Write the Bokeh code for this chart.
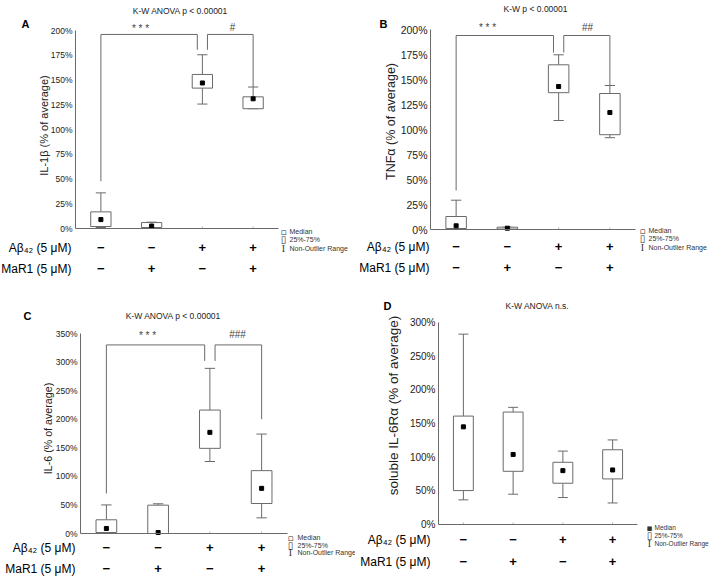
import math
from bokeh.plotting import figure
from bokeh.models import Range1d, FixedTicker, Label
from bokeh.layouts import row, column
from bokeh.embed import file_html
from bokeh.resources import INLINE

# ---------------- data ----------------
categories = [1, 2, 3, 4]
abeta_signs = ["\u2212", "\u2212", "+", "+"]
mar1_signs = ["\u2212", "+", "\u2212", "+"]

# A: IL-1beta (% of average)
il1b_low = [1, 1, 125.7, 121]
il1b_q1 = [2, 1, 141.8, 121]
il1b_med = [9, 2.5, 147, 131]
il1b_q3 = [16.8, 6, 155.6, 133]
il1b_high = [36, 6.4, 175.5, 142.9]
il1b_bracket = [47.7, 196, 180.5, 143]

# B: TNF-alpha
tnf_low = [0.3, 0.3, 109, 91.8]
tnf_q1 = [1, 0.5, 136.8, 94.8]
tnf_med = [3.7, 1.3, 143, 117]
tnf_q3 = [13, 2.3, 164.7, 136]
tnf_high = [29.3, 2.3, 174.7, 144]
tnf_bracket = [39, 194, 177, 144]

# C: IL-6
il6_low = [0, 0, 126, 27.4]
il6_q1 = [1.7, 0, 149, 52.5]
il6_med = [8.8, 1.7, 177, 79]
il6_q3 = [24, 49.6, 216, 110]
il6_high = [50, 52, 289, 174]
il6_bracket = [70, 330, 302, 200]

# D: soluble IL-6R alpha
sil6r_low = [36.6, 45, 40, 32]
sil6r_q1 = [50.4, 79, 61.3, 67.7]
sil6r_med = [145, 104, 80, 81]
sil6r_q3 = [161, 167, 92.4, 111]
sil6r_high = [282.7, 174, 109, 125.6]

FONT = "Liberation Sans"
GRAY = "#6a6a6a"
TXT = "#222222"


def make_panel(s):
    ox, oy, W, H = s["fig"]
    fl, ft, fr, fb = s["frame"]
    ymax = s["ymax"]

    def X(ax):
        return 0.5 + (ax - fl) / (fr - fl) * 4.0

    def Y(ay):
        return (fb - ay) / (fb - ft) * ymax

    p = figure(
        frame_width=W, frame_height=H, min_border=0,
        x_range=Range1d(X(ox), X(ox + W)), y_range=Range1d(Y(oy + H), Y(oy)),
        output_backend="svg", toolbar_location=None,
        background_fill_color="white", border_fill_color="white",
    )
    p.outline_line_color = None
    p.xgrid.grid_line_color = None
    p.ygrid.grid_line_color = None

    # axes, pinned at the data origin
    p.xaxis.fixed_location = 0
    p.xaxis.bounds = (0.5, 4.5)
    p.xaxis.ticker = FixedTicker(ticks=[])
    p.xaxis.minor_tick_line_color = None
    p.xaxis.axis_line_color = GRAY

    ticks = list(range(0, ymax + 1, s["step"]))
    p.yaxis.fixed_location = 0.5
    p.yaxis.bounds = (0, ymax)
    p.yaxis.ticker = FixedTicker(ticks=ticks)
    p.yaxis.major_label_overrides = {t: f"{t}%" for t in ticks}
    p.yaxis.major_label_text_font = FONT
    p.yaxis.major_label_text_font_size = s["tickfs"]
    p.yaxis.major_label_text_color = TXT
    p.yaxis.major_tick_out = 0
    p.yaxis.major_tick_in = 0
    p.yaxis.minor_tick_line_color = None
    p.yaxis.major_label_standoff = 3
    p.yaxis.axis_line_color = GRAY

    # small category ticks on the x axis
    p.segment(x0=categories, y0=[0] * 4, x1=categories, y1=[Y(fb - 2)] * 4,
              line_color="#b0b0b0", line_width=1)

    low, q1, med, q3, high = s["data"]
    # whiskers
    p.segment(x0=categories, y0=q3, x1=categories, y1=high, line_color=GRAY, line_width=1)
    p.segment(x0=categories, y0=low, x1=categories, y1=q1, line_color=GRAY, line_width=1)
    cx0 = [c - 0.1 for c in categories]
    cx1 = [c + 0.1 for c in categories]
    p.segment(x0=cx0, y0=high, x1=cx1, y1=high, line_color=GRAY, line_width=1)
    p.segment(x0=cx0, y0=low, x1=cx1, y1=low, line_color=GRAY, line_width=1)
    # boxes
    p.vbar(x=categories, width=0.4, top=q3, bottom=q1, fill_color="white",
           line_color=GRAY, line_width=1)
    # medians
    p.scatter(x=categories, y=med, marker="square", size=4,
              fill_color="black", line_color="black")

    # brackets
    if s.get("bracket"):
        b0, btop, bmid, bend = s["bracket"]
        d = 0.1
        p.line(x=[1, 1, 3 - d, 3 - d], y=[b0, btop, btop, bmid], line_color=GRAY, line_width=1)
        p.line(x=[3 + d, 3 + d, 4, 4], y=[bmid, btop, btop, bend], line_color=GRAY, line_width=1)
        for txt, ax, ay in s["stars"]:
            p.add_layout(Label(x=X(ax), y=Y(ay), text=txt, text_font=FONT,
                               text_font_size="10px", text_color="#444444",
                               text_align="center", text_baseline="middle"))

    def lab(txt, ax, ay, size, align="left", style="normal", font=FONT, color=TXT, angle=0.0):
        p.add_layout(Label(x=X(ax), y=Y(ay), text=txt, text_font=font,
                           text_font_size=size, text_font_style=style, angle=angle,
                           text_color=color, text_align=align, text_baseline="middle"))

    # y axis title
    yx, yy = s["ylabel_pos"]
    lab(s["ylabel"], yx, yy, s["ylabelfs"], align="center", angle=math.pi / 2)

    # title and panel letter
    tx, ty = s["title_pos"]
    lab(s["title"], tx, ty, "8.5px", align="center")
    lx, ly = s["letter_pos"]
    lab(s["letter"], lx, ly, "11px", align="center", style="bold", color="black")

    # treatment rows
    r1, r2 = s["rows_y"]
    rx = s["rows_x"]
    lab("A\u03b2\u2084\u2082 (5 \u03bcM)", rx, r1, "12px", align="right", color="black")
    lab("MaR1 (5 \u03bcM)", rx, r2, "12px", align="right", color="black")
    for c, a, m in zip(categories, abeta_signs, mar1_signs):
        p.add_layout(Label(x=c, y=Y(r1), text=a, text_font=FONT, text_font_size="13px",
                           text_font_style="bold", text_color="black",
                           text_align="center", text_baseline="middle"))
        p.add_layout(Label(x=c, y=Y(r2), text=m, text_font=FONT, text_font_size="13px",
                           text_font_style="bold", text_color="black",
                           text_align="center", text_baseline="middle"))

    # legend
    sx, tx2 = s["leg_x"]
    y1, y2, y3 = s["leg_y"]
    lfs = s["legfs"]
    med_sym = "\u25aa" if s["filled"] else "\u25ab"
    lab(med_sym, sx, y1, "9px", align="center", font="DejaVu Sans", color="#333333")
    lab("\u25af", sx, y2, "10px", align="center", font="DejaVu Sans", color="#333333")
    lab("I", sx, y3, "10px", align="center", font="Liberation Serif", color="#333333")
    lab("Median", tx2, y1, lfs, color="#333333")
    lab("25%-75%", tx2, y2, lfs, color="#333333")
    lab("Non-Outlier Range", tx2, y3, lfs, color="#333333")
    return p


specA = dict(fig=(0, 0, 355, 290), frame=(75, 30, 278, 228), ymax=200, step=25,
             tickfs="8.5px", ylabel="IL-1\u03b2 (% of average)", ylabelfs="11px",
             ylabel_pos=(43, 125),
             data=(il1b_low, il1b_q1, il1b_med, il1b_q3, il1b_high), bracket=il1b_bracket,
             stars=[("* * *", 140, 28), ("#", 232, 27)],
             title="K-W ANOVA p < 0.00001", title_pos=(180, 10), letter="A", letter_pos=(25, 23),
             rows_y=(247, 268), rows_x=71, leg_x=(283, 289), leg_y=(231, 239, 248),
             legfs="7px", filled=False)
specB = dict(fig=(355, 0, 354, 290), frame=(430, 29, 635, 229), ymax=200, step=25,
             tickfs="10.5px", ylabel="TNF\u03b1 (% of average)", ylabelfs="12.5px",
             ylabel_pos=(390, 121),
             data=(tnf_low, tnf_q1, tnf_med, tnf_q3, tnf_high), bracket=tnf_bracket,
             stars=[("* * *", 487, 27), ("##", 587, 27)],
             title="K-W p < 0.00001", title_pos=(535, 8), letter="B", letter_pos=(383, 23),
             rows_y=(246, 267), rows_x=429, leg_x=(642, 648), leg_y=(230, 238, 247),
             legfs="7px", filled=False)
specC = dict(fig=(0, 290, 355, 286), frame=(80, 333, 287, 533), ymax=350, step=50,
             tickfs="8.5px", ylabel="IL-6 (% of average)", ylabelfs="10.7px",
             ylabel_pos=(47, 428),
             data=(il6_low, il6_q1, il6_med, il6_q3, il6_high), bracket=il6_bracket,
             stars=[("* * *", 147, 335), ("###", 237, 334)],
             title="K-W ANOVA p < 0.00001", title_pos=(173, 315), letter="C", letter_pos=(27, 315),
             rows_y=(547, 568), rows_x=75, leg_x=(290, 297), leg_y=(537, 545, 552),
             legfs="7px", filled=False)
specD = dict(fig=(355, 290, 354, 286), frame=(438, 322, 637, 524), ymax=300, step=50,
             tickfs="10px", ylabel="soluble IL-6R\u03b1 (% of average)", ylabelfs="13.5px",
             ylabel_pos=(393, 405),
             data=(sil6r_low, sil6r_q1, sil6r_med, sil6r_q3, sil6r_high), bracket=None,
             stars=[],
             title="K-W ANOVA n.s.", title_pos=(537, 305), letter="D", letter_pos=(387, 305),
             rows_y=(539, 561), rows_x=430, leg_x=(649, 654), leg_y=(527, 535, 543),
             legfs="6.5px", filled=True)

pA = make_panel(specA)
pB = make_panel(specB)
pC = make_panel(specC)
pD = make_panel(specD)

layout = column(row(pA, pB), row(pC, pD))
open("out.html", "w").write(file_html(layout, INLINE))
